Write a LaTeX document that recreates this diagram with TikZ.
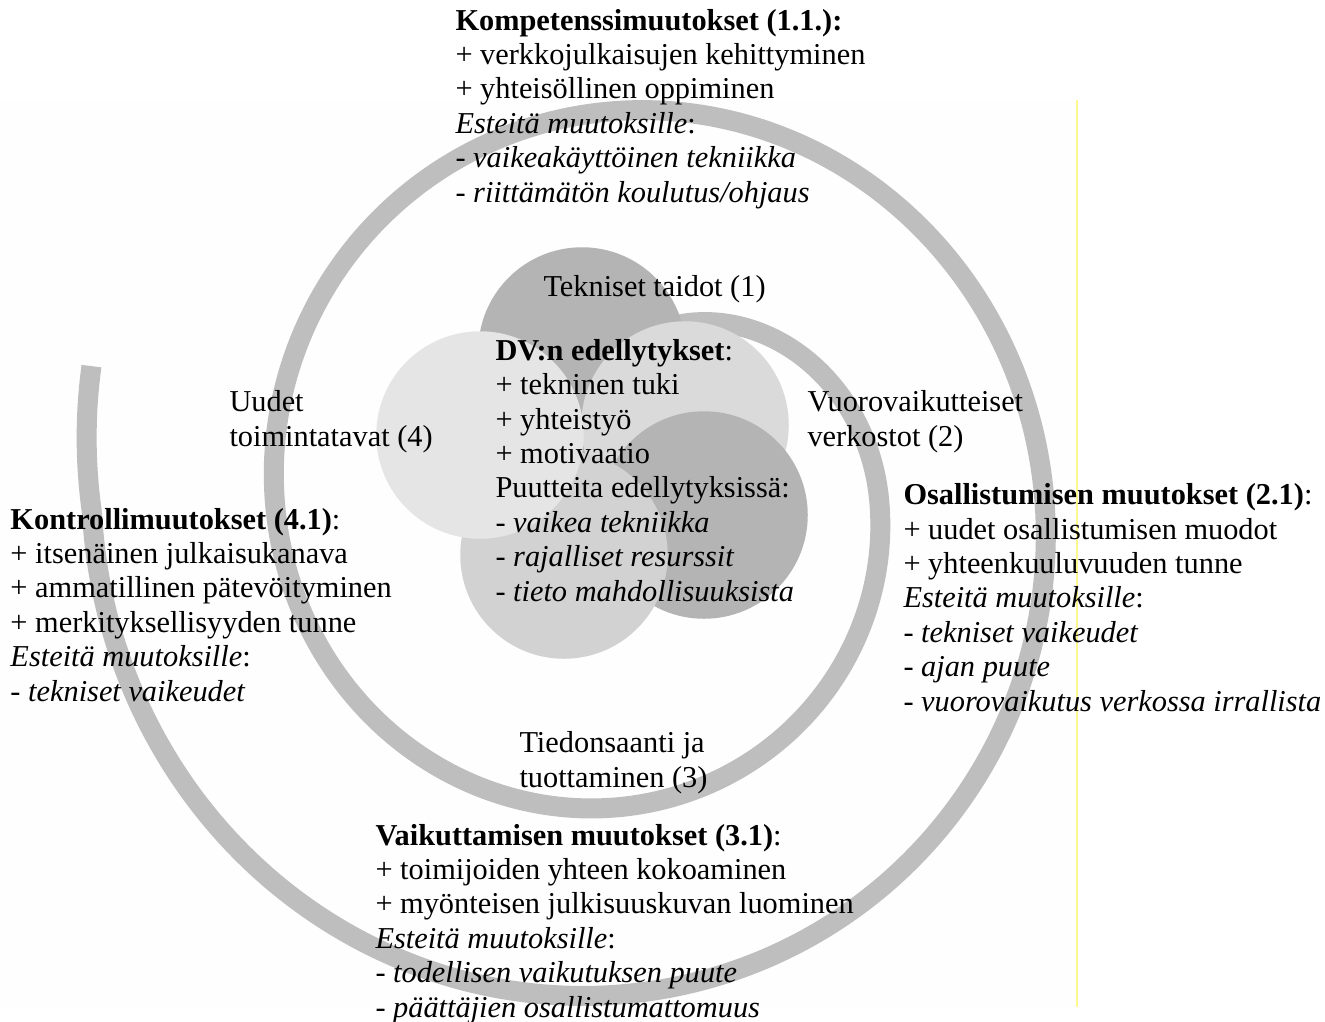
\documentclass[tikz,border=0pt]{standalone}
\usepackage{fontspec}
\setmainfont{Liberation Serif}
\definecolor{spiralgray}{RGB}{190,190,190}
\definecolor{darkdisc}{RGB}{180,180,180}
\definecolor{lightdisc}{RGB}{218,218,218}
\definecolor{middisc}{RGB}{210,210,210}
\definecolor{palestdisc}{RGB}{229,229,229}
\definecolor{paleyellow}{RGB}{255,248,140}
\definecolor{offwhite}{RGB}{254,254,254}
\begin{document}
\begin{tikzpicture}[x=0.4pt,y=-0.4pt,
  txt/.style={inner sep=0pt, anchor=base west, align=left,
    font=\fontsize{12.14}{13.76}\selectfont},
  disc/.style={circle, inner sep=0pt, minimum size=83pt, draw=none},
  spiralband/.style={draw=spiralgray, line width=8pt, line cap=butt},
]
\useasboundingbox (0,0) rectangle (1325,1021);
\fill[white] (0,0) rectangle (1325,1021);
\fill[offwhite] (0,100) rectangle (1077,1007);
\coordinate (ytop) at (1077,100);
\coordinate (ybot) at (1077,1007);
\draw[paleyellow, line width=0.5pt] (ytop) -- (ybot);

% spiral
\draw[spiralband] plot[domain=-88:556, samples=400, variable=\t, smooth]
  ({622.75-0.0236*\t+(256.25+0.4847*\t-0.0085*min(\t,0)*min(\t,0))*cos(\t)-0.8*max(\t-540,0)},
   {498.5+0.0278*\t+1.0204*(256.25+0.4847*\t-0.0085*min(\t,0)*min(\t,0))*sin(\t)});

% discs
\node[disc, fill=darkdisc] (d1) at (582,351) {};
\node[disc, fill=lightdisc] (d2) at (685,425) {};
\node[disc, fill=darkdisc] (d3) at (704,515) {};
\node[disc, fill=middisc] (d4) at (564,555) {};
\node[disc, fill=palestdisc] (d5) at (480,435) {};

% labels (anchored at the baseline of the last line)
\node[txt] (l1) at (543,296) {Tekniset taidot (1)};
\node[txt] (l2) at (807,446) {Vuorovaikutteiset\\verkostot (2)};
\node[txt] (l3) at (519,787) {Tiedonsaanti ja\\tuottaminen (3)};
\node[txt] (l4) at (229,446) {Uudet\\toimintatavat (4)};

\node[txt] (core) at (495,601) {\textbf{DV:n edellytykset}:\\
+ tekninen tuki\\
+ yhteistyö\\
+ motivaatio\\
Puutteita edellytyksissä:\\
\textit{- vaikea tekniikka}\\
\textit{- rajalliset resurssit}\\
\textit{- tieto mahdollisuuksista}};

\node[txt] (b1) at (455,202) {\textbf{Kompetenssimuutokset (1.1.):}\\
+ verkkojulkaisujen kehittyminen\\
+ yhteisöllinen oppiminen\\
\textit{Esteitä muutoksille}:\\
\textit{- vaikeakäyttöinen tekniikka}\\
\textit{- riittämätön koulutus/ohjaus}};

\node[txt] (b2) at (903,711) {\textbf{Osallistumisen muutokset (2.1)}:\\
+ uudet osallistumisen muodot\\
+ yhteenkuuluvuuden tunne\\
\textit{Esteitä muutoksille}:\\
\textit{- tekniset vaikeudet}\\
\textit{- ajan puute}\\
\textit{- vuorovaikutus verkossa irrallista}};

\node[txt] (b3) at (375,1017) {\textbf{Vaikuttamisen muutokset (3.1)}:\\
+ toimijoiden yhteen kokoaminen\\
+ myönteisen julkisuuskuvan luominen\\
\textit{Esteitä muutoksille}:\\
\textit{- todellisen vaikutuksen puute}\\
\textit{- päättäjien osallistumattomuus}};

\node[txt] (b4) at (10,701) {\textbf{Kontrollimuutokset (4.1)}:\\
+ itsenäinen julkaisukanava\\
+ ammatillinen pätevöityminen\\
+ merkityksellisyyden tunne\\
\textit{Esteitä muutoksille}:\\
\textit{- tekniset vaikeudet}};
\end{tikzpicture}
\end{document}
